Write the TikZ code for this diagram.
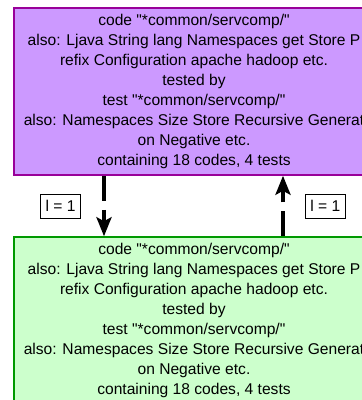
\documentclass[tikz,border=0pt]{standalone}
\usepackage{fontspec}
\setmainfont{Liberation Sans}[Ligatures=TeXOff]
\usetikzlibrary{arrows.meta}

\definecolor{codefill}{RGB}{204,153,255}
\definecolor{codeline}{RGB}{153,0,153}
\definecolor{testfill}{RGB}{204,255,204}
\definecolor{testline}{RGB}{0,153,0}

\begin{document}
\begin{tikzpicture}[x=1pt,y=-1pt,
                    group node/.style={draw,line width=1.5pt,minimum width=360pt,minimum height=167pt,
                                       inner sep=2pt,align=center,font=\fontsize{15.6}{20}\selectfont},
                    count node/.style={draw=black,fill=white,solid,line width=0.9pt,inner xsep=5pt,
                                       minimum height=24pt,font=\fontsize{15.6}{19}\selectfont},
                    link/.style={line width=4pt,dash pattern=on 25pt off 9pt,
                                 -{Stealth[length=19pt,width=15pt,inset=4pt]}}]

       \useasboundingbox (0,0) rectangle (362,400);
       \clip (0,0) rectangle (362,400);

       \node[group node,fill=codefill,draw=codeline] (1) at (194,91.5)
         {code "*common/servcomp/"\\also: Ljava String lang Namespaces get Store P\\refix Configuration apache hadoop etc.\\tested by\\test "*common/servcomp/"\\also: Namespaces Size Store Recursive Generat\\on Negative etc.\\containing 18 codes, 4 tests};
       \node[group node,fill=testfill,draw=testline] (2) at (194,320.5)
         {code "*common/servcomp/"\\also: Ljava String lang Namespaces get Store P\\refix Configuration apache hadoop etc.\\tested by\\test "*common/servcomp/"\\also: Namespaces Size Store Recursive Generat\\on Negative etc.\\containing 18 codes, 4 tests};

       \coordinate (lx) at (104,0);
       \coordinate (rx) at (283,0);

       \path
         (1.south -| lx) edge [link] node[count node,left=23pt] (w1) {l = 1} (2.north -| lx)
         (2.north -| rx) edge [link] node[count node,right=22pt] (w2) {l = 1} (1.south -| rx);
     \end{tikzpicture}
\end{document}
